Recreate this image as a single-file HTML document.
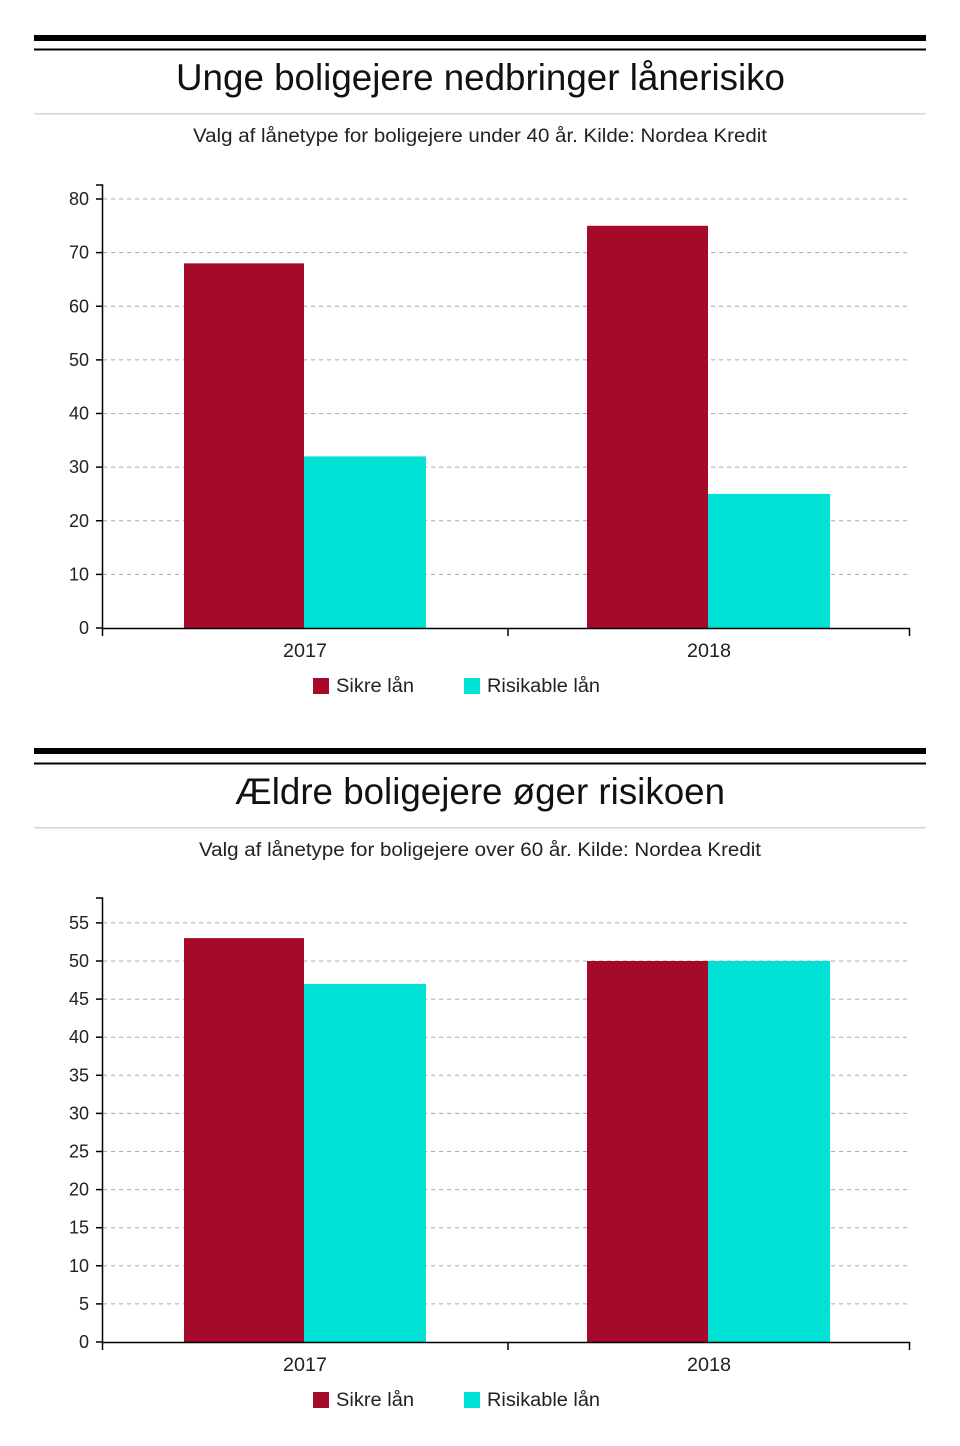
<!DOCTYPE html>
<html><head><meta charset="utf-8"><style>
html,body{margin:0;padding:0;background:#fff;}
svg{display:block;font-family:"Liberation Sans",Arial,sans-serif;}
</style></head><body>
<svg width="960" height="1446" viewBox="0 0 960 1446" xmlns="http://www.w3.org/2000/svg">
<g id="c1">
<rect x="34" y="35" width="892" height="6" fill="#000"/>
<rect x="34" y="48.5" width="892" height="2" fill="#000"/>
<text x="176" y="90" font-size="37" textLength="609" lengthAdjust="spacingAndGlyphs" fill="#111">Unge boligejere nedbringer lånerisiko</text>
<rect x="34" y="113" width="892" height="1.5" fill="#d6d6d6"/>
<text x="193" y="142" font-size="19" textLength="574" lengthAdjust="spacingAndGlyphs" fill="#222">Valg af lånetype for boligejere under 40 år. Kilde: Nordea Kredit</text>
<g stroke="#aaa" stroke-dasharray="4,4" stroke-width="1">
<line x1="103" x2="909" y1="574.4" y2="574.4"/><line x1="103" x2="909" y1="520.75" y2="520.75"/><line x1="103" x2="909" y1="467.1" y2="467.1"/><line x1="103" x2="909" y1="413.5" y2="413.5"/><line x1="103" x2="909" y1="359.9" y2="359.9"/><line x1="103" x2="909" y1="306.25" y2="306.25"/><line x1="103" x2="909" y1="252.6" y2="252.6"/><line x1="103" x2="909" y1="199" y2="199"/>
</g>
<rect x="184" y="263.35" width="120" height="364.65" fill="#a50a2b"/>
<rect x="304" y="456.4" width="122" height="171.6" fill="#00e2d5"/>
<rect x="587" y="225.8" width="121" height="402.2" fill="#a50a2b"/>
<rect x="708" y="493.9" width="122" height="134.1" fill="#00e2d5"/>
<g stroke="#000" stroke-width="1.5" fill="none">
<path d="M96 185H102.5V628.5"/>
<line x1="102" x2="910" y1="628.5" y2="628.5"/>
<line x1="102.5" x2="102.5" y1="628" y2="636"/><line x1="508" x2="508" y1="628" y2="636"/><line x1="909.5" x2="909.5" y1="628" y2="636"/>
<line x1="96" x2="102" y1="628" y2="628"/><line x1="96" x2="102" y1="574.4" y2="574.4"/><line x1="96" x2="102" y1="520.75" y2="520.75"/><line x1="96" x2="102" y1="467.1" y2="467.1"/><line x1="96" x2="102" y1="413.5" y2="413.5"/><line x1="96" x2="102" y1="359.9" y2="359.9"/><line x1="96" x2="102" y1="306.25" y2="306.25"/><line x1="96" x2="102" y1="252.6" y2="252.6"/><line x1="96" x2="102" y1="199" y2="199"/>
</g>
<g font-size="18" fill="#222" text-anchor="end">
<text x="89" y="634">0</text><text x="89" y="580.4">10</text><text x="89" y="526.75">20</text><text x="89" y="473.1">30</text><text x="89" y="419.5">40</text><text x="89" y="365.9">50</text><text x="89" y="312.25">60</text><text x="89" y="258.6">70</text><text x="89" y="205">80</text>
</g>
<g font-size="19" fill="#222">
<text x="283" y="657" textLength="44" lengthAdjust="spacingAndGlyphs">2017</text><text x="687" y="657" textLength="44" lengthAdjust="spacingAndGlyphs">2018</text>
</g>
<rect x="313" y="678" width="16" height="16" fill="#a50a2b"/>
<text x="336" y="692" font-size="19" textLength="78" lengthAdjust="spacingAndGlyphs" fill="#222">Sikre lån</text>
<rect x="464" y="678" width="16" height="16" fill="#00e2d5"/>
<text x="487" y="692" font-size="19" textLength="113" lengthAdjust="spacingAndGlyphs" fill="#222">Risikable lån</text>
</g>
<g id="c2">
<rect x="34" y="748" width="892" height="6" fill="#000"/>
<rect x="34" y="762.5" width="892" height="2" fill="#000"/>
<text x="235" y="804" font-size="37" textLength="490" lengthAdjust="spacingAndGlyphs" fill="#111">Ældre boligejere øger risikoen</text>
<rect x="34" y="827" width="892" height="1.5" fill="#d6d6d6"/>
<text x="199" y="856" font-size="19" textLength="562" lengthAdjust="spacingAndGlyphs" fill="#222">Valg af lånetype for boligejere over 60 år. Kilde: Nordea Kredit</text>
<g stroke="#aaa" stroke-dasharray="4,4" stroke-width="1">
<line x1="103" x2="909" y1="1303.9" y2="1303.9"/><line x1="103" x2="909" y1="1265.8" y2="1265.8"/><line x1="103" x2="909" y1="1227.7" y2="1227.7"/><line x1="103" x2="909" y1="1189.6" y2="1189.6"/><line x1="103" x2="909" y1="1151.5" y2="1151.5"/><line x1="103" x2="909" y1="1113.4" y2="1113.4"/><line x1="103" x2="909" y1="1075.3" y2="1075.3"/><line x1="103" x2="909" y1="1037.2" y2="1037.2"/><line x1="103" x2="909" y1="999.1" y2="999.1"/><line x1="103" x2="909" y1="961" y2="961"/><line x1="103" x2="909" y1="922.9" y2="922.9"/>
</g>
<rect x="184" y="938.1" width="120" height="403.9" fill="#a50a2b"/>
<rect x="304" y="983.9" width="122" height="358.1" fill="#00e2d5"/>
<rect x="587" y="961" width="121" height="381" fill="#a50a2b"/>
<rect x="708" y="961" width="122" height="381" fill="#00e2d5"/>
<g stroke="#000" stroke-width="1.5" fill="none">
<path d="M96 898H102.5V1342.5"/>
<line x1="102" x2="910" y1="1342.5" y2="1342.5"/>
<line x1="102.5" x2="102.5" y1="1342" y2="1350"/><line x1="508" x2="508" y1="1342" y2="1350"/><line x1="909.5" x2="909.5" y1="1342" y2="1350"/>
<line x1="96" x2="102" y1="1342" y2="1342"/><line x1="96" x2="102" y1="1303.9" y2="1303.9"/><line x1="96" x2="102" y1="1265.8" y2="1265.8"/><line x1="96" x2="102" y1="1227.7" y2="1227.7"/><line x1="96" x2="102" y1="1189.6" y2="1189.6"/><line x1="96" x2="102" y1="1151.5" y2="1151.5"/><line x1="96" x2="102" y1="1113.4" y2="1113.4"/><line x1="96" x2="102" y1="1075.3" y2="1075.3"/><line x1="96" x2="102" y1="1037.2" y2="1037.2"/><line x1="96" x2="102" y1="999.1" y2="999.1"/><line x1="96" x2="102" y1="961" y2="961"/><line x1="96" x2="102" y1="922.9" y2="922.9"/>
</g>
<g font-size="18" fill="#222" text-anchor="end">
<text x="89" y="1348">0</text><text x="89" y="1309.9">5</text><text x="89" y="1271.8">10</text><text x="89" y="1233.7">15</text><text x="89" y="1195.6">20</text><text x="89" y="1157.5">25</text><text x="89" y="1119.4">30</text><text x="89" y="1081.3">35</text><text x="89" y="1043.2">40</text><text x="89" y="1005.1">45</text><text x="89" y="967">50</text><text x="89" y="928.9">55</text>
</g>
<g font-size="19" fill="#222">
<text x="283" y="1371" textLength="44" lengthAdjust="spacingAndGlyphs">2017</text><text x="687" y="1371" textLength="44" lengthAdjust="spacingAndGlyphs">2018</text>
</g>
<rect x="313" y="1392" width="16" height="16" fill="#a50a2b"/>
<text x="336" y="1406" font-size="19" textLength="78" lengthAdjust="spacingAndGlyphs" fill="#222">Sikre lån</text>
<rect x="464" y="1392" width="16" height="16" fill="#00e2d5"/>
<text x="487" y="1406" font-size="19" textLength="113" lengthAdjust="spacingAndGlyphs" fill="#222">Risikable lån</text>
</g>
</svg>
</body></html>
